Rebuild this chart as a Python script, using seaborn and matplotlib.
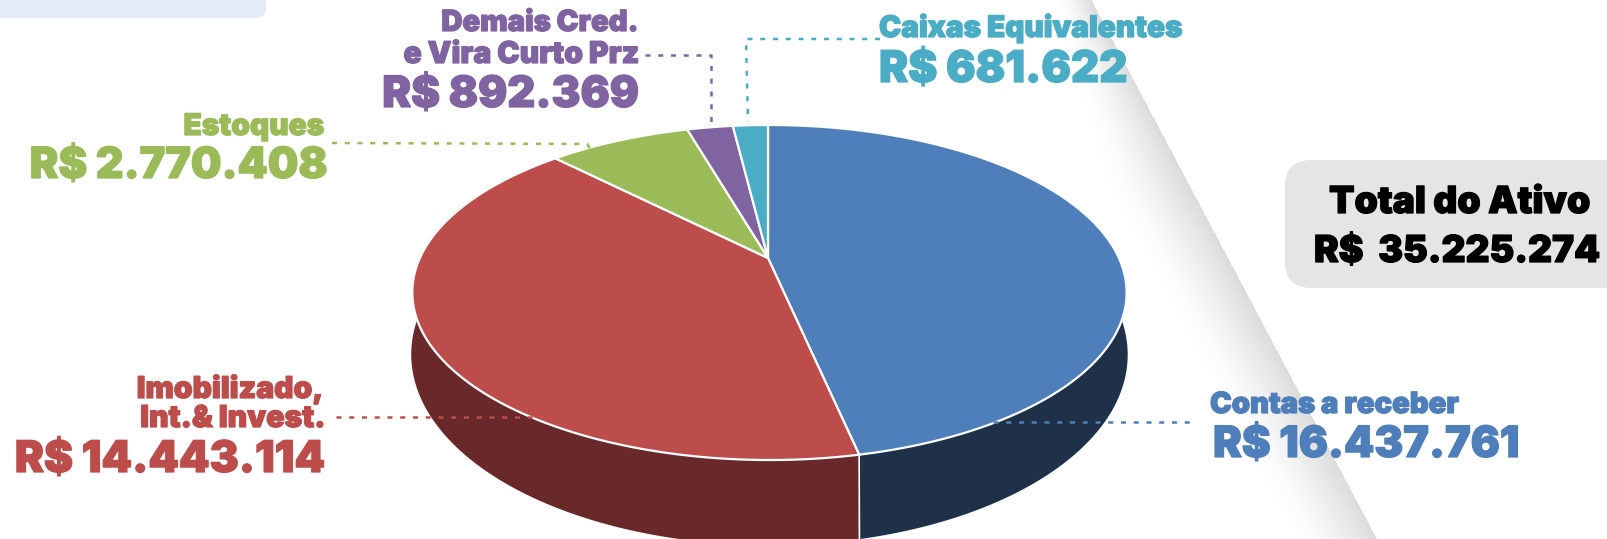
import numpy as np
import pandas as pd
import seaborn as sns
import matplotlib
matplotlib.use("Agg")
import matplotlib.pyplot as plt
import matplotlib.patheffects as pe
from matplotlib.patches import FancyBboxPatch
from matplotlib.path import Path
from matplotlib.transforms import Transform, Affine2D

categories = ["Contas a receber", "Imobilizado,\nInt.& Invest.", "Estoques",
              "Demais Cred.\ne Vira Curto Prz", "Caixas Equivalentes"]
values = [16437761, 14443114, 2770408, 892369, 681622]
total_label = "Total do Ativo"
total_value = 35225274
top_colors = ["#4E7FBA", "#BC4D4B", "#9BBB59", "#8064A2", "#4BACC6"]
wall_colors = ["#1E3149", "#69282A", "#5E7235", "#4C3C61", "#2D6777"]

sns.set_theme(style="white")
plt.rcParams["font.family"] = ["Inter", "DejaVu Sans"]

df = pd.DataFrame({"categoria": categories, "valor": values})
W, H = 1608, 539
fig = plt.figure(figsize=(W / 100, H / 100), dpi=100, facecolor="white")
ax = fig.add_axes([0, 0, 1, 1])


def brl(v):
    return "R$ " + f"{v:,}".replace(",", ".")


class Perspective(Transform):
    """Tilted-disc projection of the unit pie into the pixel-sized axes."""
    input_dims = output_dims = 2
    is_affine = False
    has_inverse = False

    def __init__(self, dy=0.0, grow_x=1.0, grow_y=1.0):
        super().__init__()
        self.dy, self.grow_x, self.grow_y = dy, grow_x, grow_y

    def transform_non_affine(self, xy):
        xy = np.asarray(xy, float)
        u, v = xy[:, 0], xy[:, 1]
        d = 1 + 0.206 * v - 0.004 * u
        return np.column_stack([768 + self.grow_x * 349.5 * u / d,
                                258 + self.dy - self.grow_y * 160.4 * v / d])

    def transform_path_non_affine(self, path):
        poly = path.to_polygons(Affine2D().scale(2000), closed_only=False)[0] / 2000
        return Path(self.transform_non_affine(poly))


# fold of the page behind the chart
ys, xs = np.mgrid[0:H, 0:W]
d = (1091 + 0.53 * ys) - xs
width = np.minimum(35 + 0.25 * ys, 80)
shade = np.where(d >= 0, np.clip(1 - d / width, 0, 1) ** 1.5, 0.0)
rgba = np.zeros((H, W, 4))
rgba[..., :3] = 0.86
rgba[..., 3] = shade
ax.imshow(rgba, extent=(0, W, H, 0), interpolation="bilinear", zorder=0, aspect="auto")

ax.add_patch(FancyBboxPatch((-40, -40), 40 + 266, 40 + 18, boxstyle="round,pad=0,rounding_size=10",
                            fc="#E4EBF8", ec="none", zorder=1))
ax.add_patch(FancyBboxPatch((1285, 160), 400, 128, boxstyle="round,pad=0,rounding_size=26",
                            fc="#E5E5E5", ec="none", zorder=1))

# side wall, one band per slice, from the same shares as the pie
shares = df["valor"].to_numpy() / df["valor"].sum()
edges = np.concatenate([[0], np.cumsum(shares)]) * 2 * np.pi
top_t, low_t = Perspective(), Perspective(dy=57.3, grow_x=1.003, grow_y=1.138)
for i, col in enumerate(wall_colors):
    a = np.linspace(edges[i], edges[i + 1], 200)
    uv = np.column_stack([np.sin(a), np.cos(a)])
    p_top = top_t.transform_non_affine(uv)
    p_low = low_t.transform_non_affine(uv)
    ax.fill(*np.vstack([p_top, p_low[::-1]]).T, color=col, lw=0, zorder=2)
    front = np.column_stack([[np.sin(edges[i])], [np.cos(edges[i])]])
    if front[0, 1] < 0:
        s = np.vstack([top_t.transform_non_affine(front), low_t.transform_non_affine(front)])
        ax.plot(s[:, 0], s[:, 1], color="white", lw=1.2, zorder=2.5)

wedges, _ = ax.pie(df["valor"], colors=top_colors, startangle=90, counterclock=False,
                   wedgeprops=dict(edgecolor="white", linewidth=1.6))
for w in wedges:
    w.set_transform(Perspective() + ax.transData)
    w.set_zorder(3)
ax.set_aspect("auto")
ax.set_xlim(0, W)
ax.set_ylim(H, 0)
ax.axis("off")

# leaders
dot = dict(lw=1.8, ls=(0, (2, 3.1)), zorder=4)
ax.plot([993, 1197], [422, 422], color=top_colors[0], **dot)
ax.plot([336, 537], [417, 417], color=top_colors[1], **dot)
ax.plot([332, 587, 591], [143, 144, 150], color=top_colors[2], **dot)
ax.plot([645, 711, 711], [55, 55, 127], color=top_colors[3], **dot)
ax.plot([880, 746, 748], [39, 39, 122], color=top_colors[4], **dot)


def label(x, y, s, color, size, ha):
    ax.text(x, y, s, color=color, fontsize=size, ha=ha, va="baseline", fontweight="black", zorder=5,
            path_effects=[pe.withStroke(linewidth=0.9, foreground=color)])


label(1210, 413, categories[0], top_colors[0], 21, "left")
label(1213, 457, brl(values[0]), top_colors[0], 31.1, "left")

l1, l2 = categories[1].split("\n")
label(323, 398, l1, top_colors[1], 21.6, "right")
label(325, 427, l2, top_colors[1], 21.7, "right")
label(325, 472, brl(values[1]), top_colors[1], 31.4, "right")

label(324, 135, categories[2], top_colors[2], 21.5, "right")
label(328, 178, brl(values[2]), top_colors[2], 31, "right")

l1, l2 = categories[3].split("\n")
label(639, 31, l1, top_colors[3], 21, "right")
label(639, 63, l2, top_colors[3], 21.6, "right")
label(639, 107, brl(values[3]), top_colors[3], 31.2, "right")

label(879, 37, categories[4], top_colors[4], 21.4, "left")
label(879, 82, brl(values[4]), top_colors[4], 31.5, "left")

label(1329, 213, total_label, "black", 26.8, "left")
label(1314, 262, brl(total_value).replace("R$ ", "R$  "), "black", 26.7, "left")

fig.savefig("out.png", dpi=100, facecolor="white")
